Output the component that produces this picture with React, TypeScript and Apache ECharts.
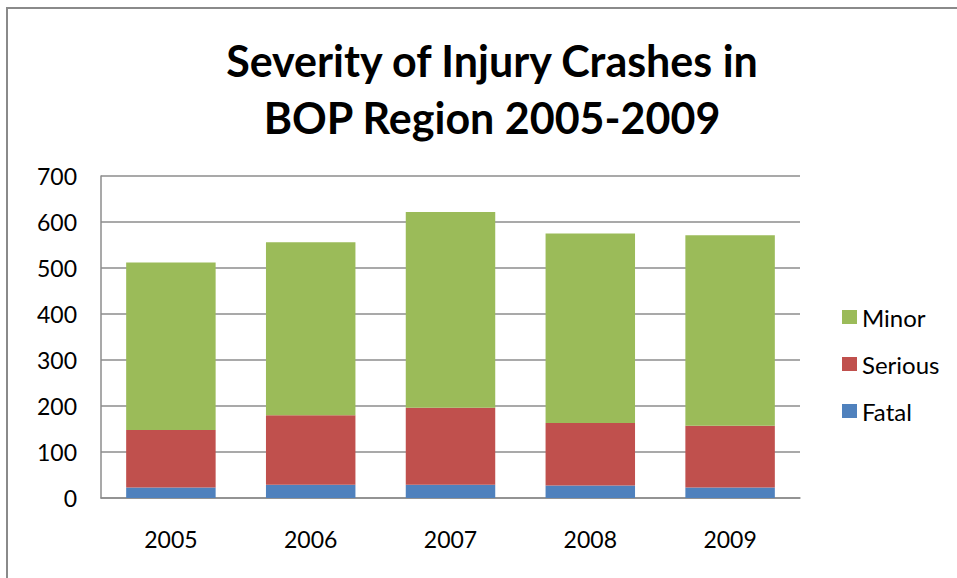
import React, { useEffect, useRef } from "react";
import * as echarts from "echarts";

const years = ["2005", "2006", "2007", "2008", "2009"];
const fatal = [23, 29, 29, 27, 23];
const serious = [125, 151, 167, 136, 134];
const minor = [364, 376, 426, 412, 414];
const yTicks = { min: 0, max: 700, interval: 100 };

const FONT = "Lato, 'Open Sans', sans-serif";

export default function App() {
  const ref = useRef<HTMLDivElement>(null);
  useEffect(() => {
    if (!ref.current) return;
    const chart = echarts.init(ref.current, null, { renderer: "svg" });
    const barStyle = (color: string) => ({ color });
    chart.setOption({
      animation: false,
      backgroundColor: "#ffffff",
      textStyle: { fontFamily: FONT },
      title: {
        text: "Severity of Injury Crashes in\nBOP Region 2005-2009",
        left: 487,
        textAlign: "center",
        top: 27,
        textStyle: {
          fontFamily: FONT,
          fontSize: 43,
          fontWeight: "bold",
          color: "#000000",
          lineHeight: 57,
        },
      },
      graphic: [
        {
          type: "rect",
          shape: { x: 7, y: 8, width: 960, height: 580 },
          style: { fill: "none", stroke: "#8a8a8a", lineWidth: 2 },
          silent: true,
        },
      ],
      legend: {
        orient: "vertical",
        left: 837,
        top: 300,
        itemWidth: 15,
        itemHeight: 14,
        itemGap: 23,
        data: ["Minor", "Serious", "Fatal"],
        textStyle: { fontFamily: FONT, fontSize: 24, lineHeight: 24, color: "#000000" },
        icon: "rect",
      },
      grid: { left: 101, right: 157, top: 176, bottom: 80, containLabel: false },
      xAxis: {
        type: "category",
        data: years,
        axisLine: { lineStyle: { color: "#8c8c8c", width: 1.5 } },
        axisTick: { show: false },
        axisLabel: { fontFamily: FONT, fontSize: 23, color: "#000000", margin: 29 },
      },
      yAxis: {
        type: "value",
        min: yTicks.min,
        max: yTicks.max,
        interval: yTicks.interval,
        axisLine: { show: true, lineStyle: { color: "#8c8c8c", width: 1.5 } },
        axisTick: { show: false },
        splitLine: { lineStyle: { color: "#8c8c8c", width: 1.5 } },
        axisLabel: { fontFamily: FONT, fontSize: 23, color: "#000000", margin: 24 },
      },
      series: [
        { name: "Fatal", type: "bar", stack: "t", data: fatal, barWidth: "64%", itemStyle: barStyle("#4f81bd") },
        { name: "Serious", type: "bar", stack: "t", data: serious, itemStyle: barStyle("#c0504d") },
        { name: "Minor", type: "bar", stack: "t", data: minor, itemStyle: barStyle("#9bbb59") },
      ],
    });
    return () => chart.dispose();
  }, []);
  return (
    <div
      ref={ref}
      style={{ position: "absolute", left: 0, top: 0, width: 957, height: 578 }}
    />
  );
}
